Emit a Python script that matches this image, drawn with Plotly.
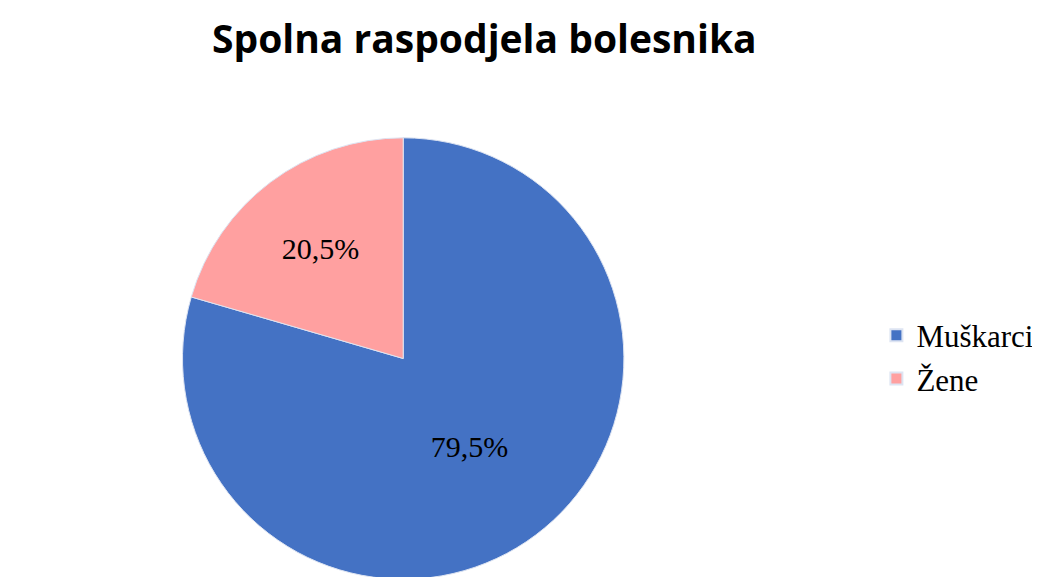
import plotly.graph_objects as go

labels = ["Muškarci", "Žene"]
values = [79.5, 20.5]
colors = ["#4472C4", "#FFA0A0"]
text_labels = [f"{v:.1f}".replace(".", ",") + "%" for v in values]

fig = go.Figure(
    go.Pie(
        labels=labels,
        values=values,
        text=text_labels,
        textinfo="text",
        textposition="inside",
        insidetextorientation="horizontal",
        sort=False,
        direction="clockwise",
        rotation=0,
        marker=dict(colors=colors, line=dict(color="#DDE4F2", width=1)),
        textfont=dict(family="Liberation Serif", size=30, color="#000000"),
        domain=dict(x=[0.0, 0.76], y=[0.01, 0.775]),
        hoverinfo="label+percent",
    )
)

fig.update_layout(
    width=1040,
    height=577,
    margin=dict(l=0, r=0, t=0, b=0),
    paper_bgcolor="#FFFFFF",
    plot_bgcolor="#FFFFFF",
    title=dict(
        text="<b>Spolna raspodjela bolesnika</b>",
        x=0.458,
        xanchor="center",
        y=0.945,
        yanchor="middle",
        font=dict(family="Open Sans", size=39, color="#000000"),
    ),
    legend=dict(
        x=0.835,
        y=0.395,
        xanchor="left",
        yanchor="middle",
        font=dict(family="Liberation Serif", size=31, color="#000000"),
        itemsizing="constant",
    ),
)

fig.write_html("out.html")
